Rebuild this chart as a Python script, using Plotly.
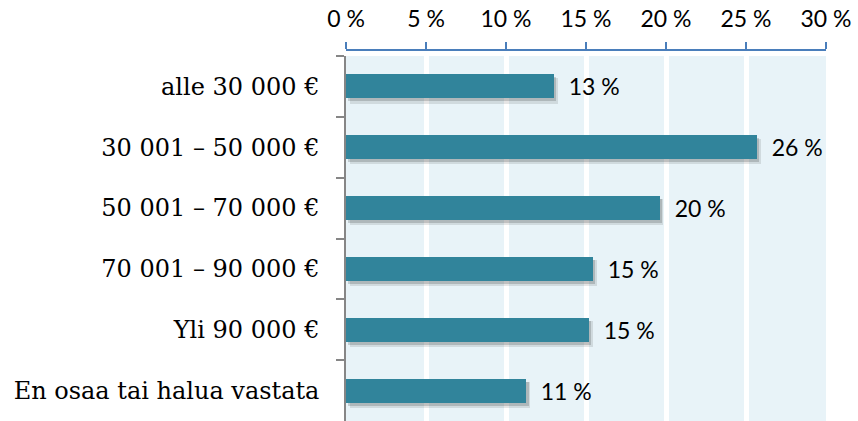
import plotly.graph_objects as go

# Household income brackets and share of respondents (%)
categories = [
    "alle 30 000 €",
    "30 001 – 50 000 €",
    "50 001 – 70 000 €",
    "70 001 – 90 000 €",
    "Yli 90 000 €",
    "En osaa tai halua vastata",
]
shares = [13.0, 25.7, 19.6, 15.45, 15.2, 11.27]
tick_values = [0, 5, 10, 15, 20, 25, 30]
tick_labels = [f"{v} %" for v in tick_values]

BAR_COLOR = "#31849b"
PLOT_BG = "#e8f3f8"
BAR_W = 0.395

fig = go.Figure()

# soft drop shadow under each bar (two translucent layers)
for dy, dx, alpha, extra in [(0.07, 0.22, 0.10, 0.03), (0.05, 0.14, 0.16, 0.0)]:
    fig.add_trace(go.Bar(
        y=categories,
        x=shares,
        base=[dx] * len(shares),
        orientation="h",
        width=BAR_W + extra,
        offset=-(BAR_W + extra) / 2 + dy,
        marker=dict(color=f"rgba(0,0,0,{alpha})", line=dict(width=0)),
        hoverinfo="skip",
        showlegend=False,
    ))

fig.add_trace(go.Bar(
    y=categories,
    x=shares,
    orientation="h",
    width=BAR_W,
    marker=dict(color=BAR_COLOR, line=dict(width=0)),
    texttemplate="\u00a0\u00a0%{x:.0f} %",
    textposition="outside",
    constraintext="none",
    textfont=dict(family="Lato", size=23, color="#000000"),
    cliponaxis=False,
    showlegend=False,
))

fig.update_layout(
    width=858,
    height=421,
    margin=dict(l=346, r=31.5, t=50, b=0, pad=0),
    paper_bgcolor="white",
    plot_bgcolor=PLOT_BG,
    barmode="overlay",
    xaxis=dict(
        side="top",
        anchor="free",
        position=1,
        range=[0, 30],
        tickmode="array",
        tickvals=tick_values,
        ticktext=tick_labels,
        tickfont=dict(family="Lato", size=23, color="#000000"),
        ticks="outside",
        ticklen=7,
        tickwidth=1.5,
        tickcolor="#4a7ebb",
        showline=True,
        linecolor="#4a7ebb",
        linewidth=1.5,
        showgrid=True,
        gridcolor="white",
        gridwidth=5,
        zeroline=False,
        ticklabelstandoff=6,
        fixedrange=True,
    ),
    yaxis=dict(
        domain=[0, 365 / 371],
        autorange="reversed",
        type="category",
        tickfont=dict(family="DejaVu Serif", size=24, color="#000000"),
        ticks="outside",
        tickson="boundaries",
        ticklen=8,
        tickwidth=1.5,
        tickcolor="#868686",
        showline=True,
        linecolor="#868686",
        linewidth=1.5,
        showgrid=False,
        zeroline=False,
        ticklabelstandoff=20,
        fixedrange=True,
    ),
    bargap=0,
)

fig.write_html("out.html")
